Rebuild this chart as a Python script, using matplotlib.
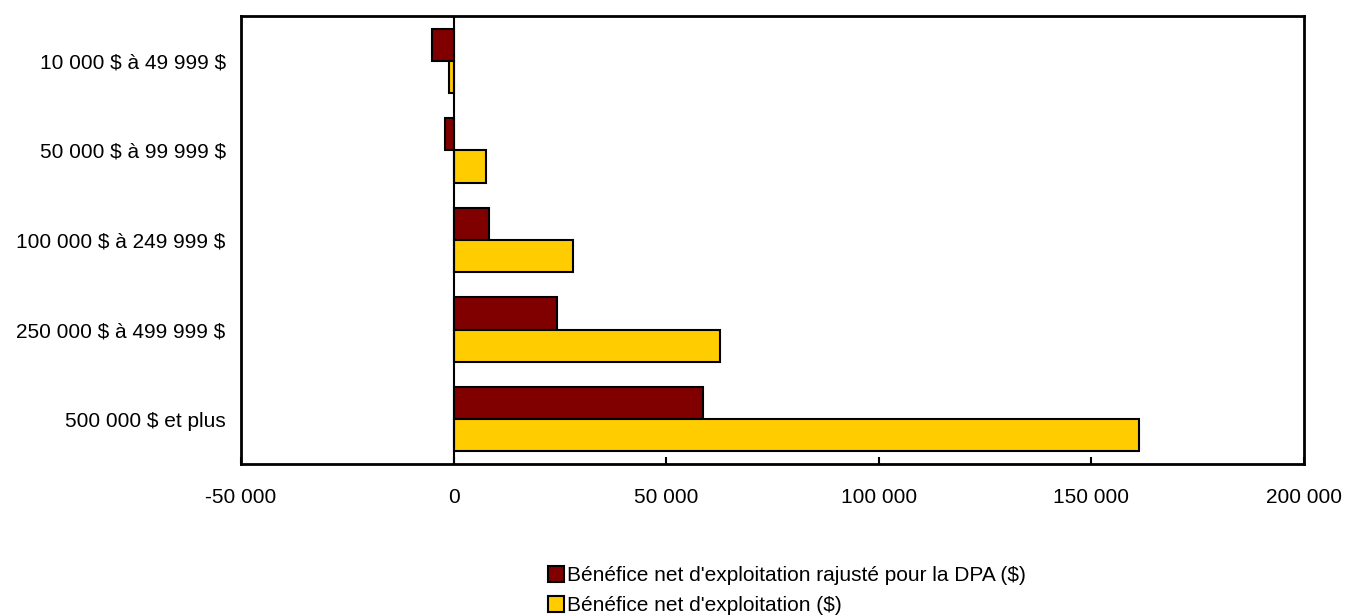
import numpy as np
import matplotlib.pyplot as plt
from matplotlib.lines import Line2D
from matplotlib.ticker import FuncFormatter

plt.rcParams['font.family'] = ['Liberation Sans', 'DejaVu Sans']
plt.rcParams['text.parse_math'] = False

categories = ['10 000 $ à 49 999 $', '50 000 $ à 99 999 $', '100 000 $ à 249 999 $',
              '250 000 $ à 499 999 $', '500 000 $ et plus']
adjusted = [-5000, -2000, 8300, 24300, 58600]
net_income = [-1000, 7700, 28000, 62700, 161200]
series_labels = ["Bénéfice net d'exploitation rajusté pour la DPA ($)",
                 "Bénéfice net d'exploitation ($)"]
colors = ['#800000', '#FFCC00']

fig = plt.figure(figsize=(13.46, 6.16), dpi=100)
ax = fig.add_axes([241 / 1346, 1 - 464 / 616, (1304 - 241) / 1346, (464 - 16) / 616])

y = np.arange(len(categories))
h = 0.36
ax.barh(y - h / 2, adjusted, height=h, color=colors[0], edgecolor='black', linewidth=1.5, zorder=3)
ax.barh(y + h / 2, net_income, height=h, color=colors[1], edgecolor='black', linewidth=1.5, zorder=3)
ax.axvline(0, color='black', linewidth=1.5, zorder=4)

ax.set_xlim(-50000, 200000)
ax.set_ylim(len(categories) - 0.5, -0.5)
ax.set_yticks(y)
ax.set_yticklabels(categories, fontsize=15)
ax.tick_params(axis='y', length=0, pad=11)
ax.set_xticks(np.arange(-50000, 200001, 50000))
ax.xaxis.set_major_formatter(FuncFormatter(lambda v, p: f'{int(v):,}'.replace(',', ' ')))
ax.tick_params(axis='x', direction='in', length=5, width=1.5, labelsize=15, pad=17)
for s in ax.spines.values():
    s.set_linewidth(2)

handles = [Line2D([], [], marker='s', linestyle='none', markersize=11, markerfacecolor=c,
                  markeredgecolor='black', markeredgewidth=1.5) for c in colors]
fig.legend(handles, series_labels, loc='upper left', bbox_to_anchor=(546 / 1346, 1 - 566 / 616),
           frameon=False, fontsize=15, handletextpad=0.0, labelspacing=0.55, handlelength=1.0,
           borderaxespad=0, borderpad=0)

plt.savefig('out.png', dpi=100)
